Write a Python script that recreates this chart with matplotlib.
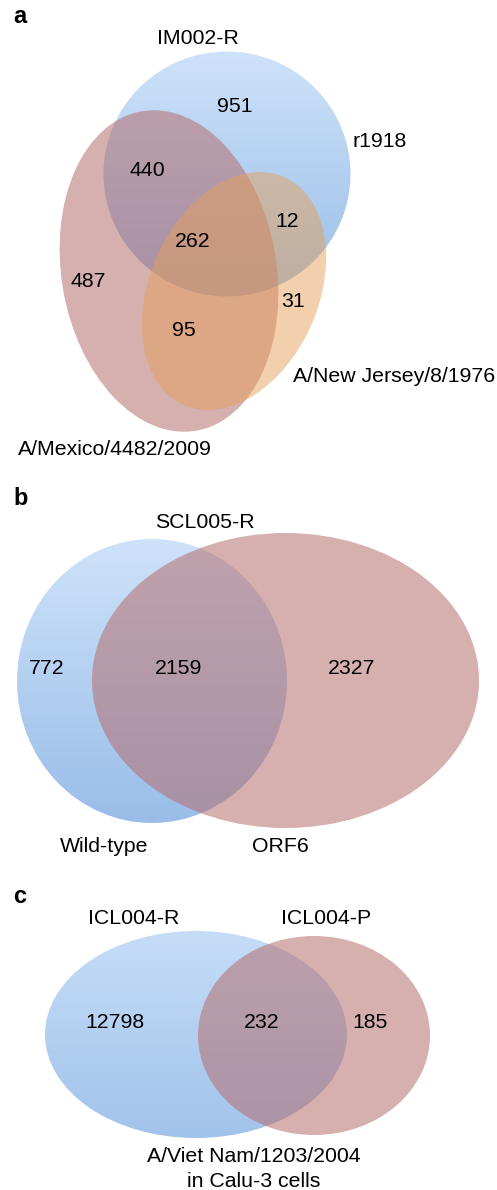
import numpy as np
import matplotlib.pyplot as plt
from matplotlib.patches import Ellipse

plt.rcParams['font.family'] = ['Liberation Sans', 'DejaVu Sans']

# panel a: IM002-R, three strains
a_names = ['IM002-R', 'r1918', 'A/New Jersey/8/1976', 'A/Mexico/4482/2009']
a_counts = [951, 440, 12, 262, 487, 31, 95]
# panel b: SCL005-R
b_names = ['SCL005-R', 'Wild-type', 'ORF6']
b_counts = [772, 2159, 2327]
# panel c: ICL004
c_names = ['ICL004-R', 'ICL004-P', 'A/Viet Nam/1203/2004', 'in Calu-3 cells']
c_counts = [12798, 232, 185]

# layout (pixel coords, y down, text baselines)
a_name_pos = [(198, 44), (380, 147), (394, 382), (115, 455)]
a_count_pos = [(235, 112), (147, 176), (287, 227), (193, 247), (88, 287), (293, 307), (184, 336)]
b_name_pos = [(205, 528), (104, 852), (280, 852)]
b_count_pos = [(47, 674), (179, 674), (352, 674)]
c_name_pos = [(134, 924), (326, 924), (254, 1162), (254, 1187)]
c_count_pos = [(115, 1028), (262, 1028), (370, 1028)]

BLUE_TOP = (0.81, 0.89, 0.98)
BLUE_BOT = (0.60, 0.74, 0.91)
RED = (0.71, 0.43, 0.43)
ORANGE = (0.90, 0.63, 0.36)

fig = plt.figure(figsize=(4.97, 11.9), dpi=100)
ax = fig.add_axes([0, 0, 1, 1])


def shape(cx, cy, w, h, ang, top, bot, alpha):
    e = Ellipse((cx, cy), w, h, angle=ang, facecolor='none', edgecolor='none')
    ax.add_patch(e)
    n = 256
    t = np.linspace(0, 1, n)[:, None]
    img = np.zeros((n, 2, 4))
    for k in range(3):
        img[:, :, k] = top[k] + (bot[k] - top[k]) * t
    img[:, :, 3] = alpha
    r = max(w, h) / 2 + 2
    im = ax.imshow(img, extent=(cx - r, cx + r, cy + r, cy - r), aspect='auto',
                   interpolation='bilinear', zorder=1)
    im.set_clip_path(e)


# a
shape(227, 174, 247, 245, 0, BLUE_TOP, BLUE_BOT, 1.0)
shape(169, 271, 215, 324, -9.6, RED, RED, 0.55)
shape(234, 291, 169, 249, 23.7, ORANGE, ORANGE, 0.5)
# b
shape(152, 681, 270, 284, 0, BLUE_TOP, BLUE_BOT, 1.0)
shape(285.5, 680.5, 387, 295, 0, RED, RED, 0.55)
# c
shape(196, 1034.5, 302, 207, 0, BLUE_TOP, BLUE_BOT, 1.0)
shape(314, 1035.5, 232, 199, 0, RED, RED, 0.55)

fs = 15.3
for names, npos, counts, cpos in [(a_names, a_name_pos, a_counts, a_count_pos),
                                  (b_names, b_name_pos, b_counts, b_count_pos),
                                  (c_names, c_name_pos, c_counts, c_count_pos)]:
    for s, (x, y) in zip(names, npos):
        ax.text(x, y, s, ha='center', va='baseline', fontsize=fs, zorder=3)
    for v, (x, y) in zip(counts, cpos):
        ax.text(x, y, str(v), ha='center', va='baseline', fontsize=fs, zorder=3)

for lab, y in [('a', 23), ('b', 505), ('c', 903)]:
    ax.text(13, y, lab, ha='left', va='baseline', fontsize=17, fontweight='bold')

ax.set_xlim(0, 497)
ax.set_ylim(1190, 0)
ax.axis('off')
fig.savefig('out.png', dpi=100)
